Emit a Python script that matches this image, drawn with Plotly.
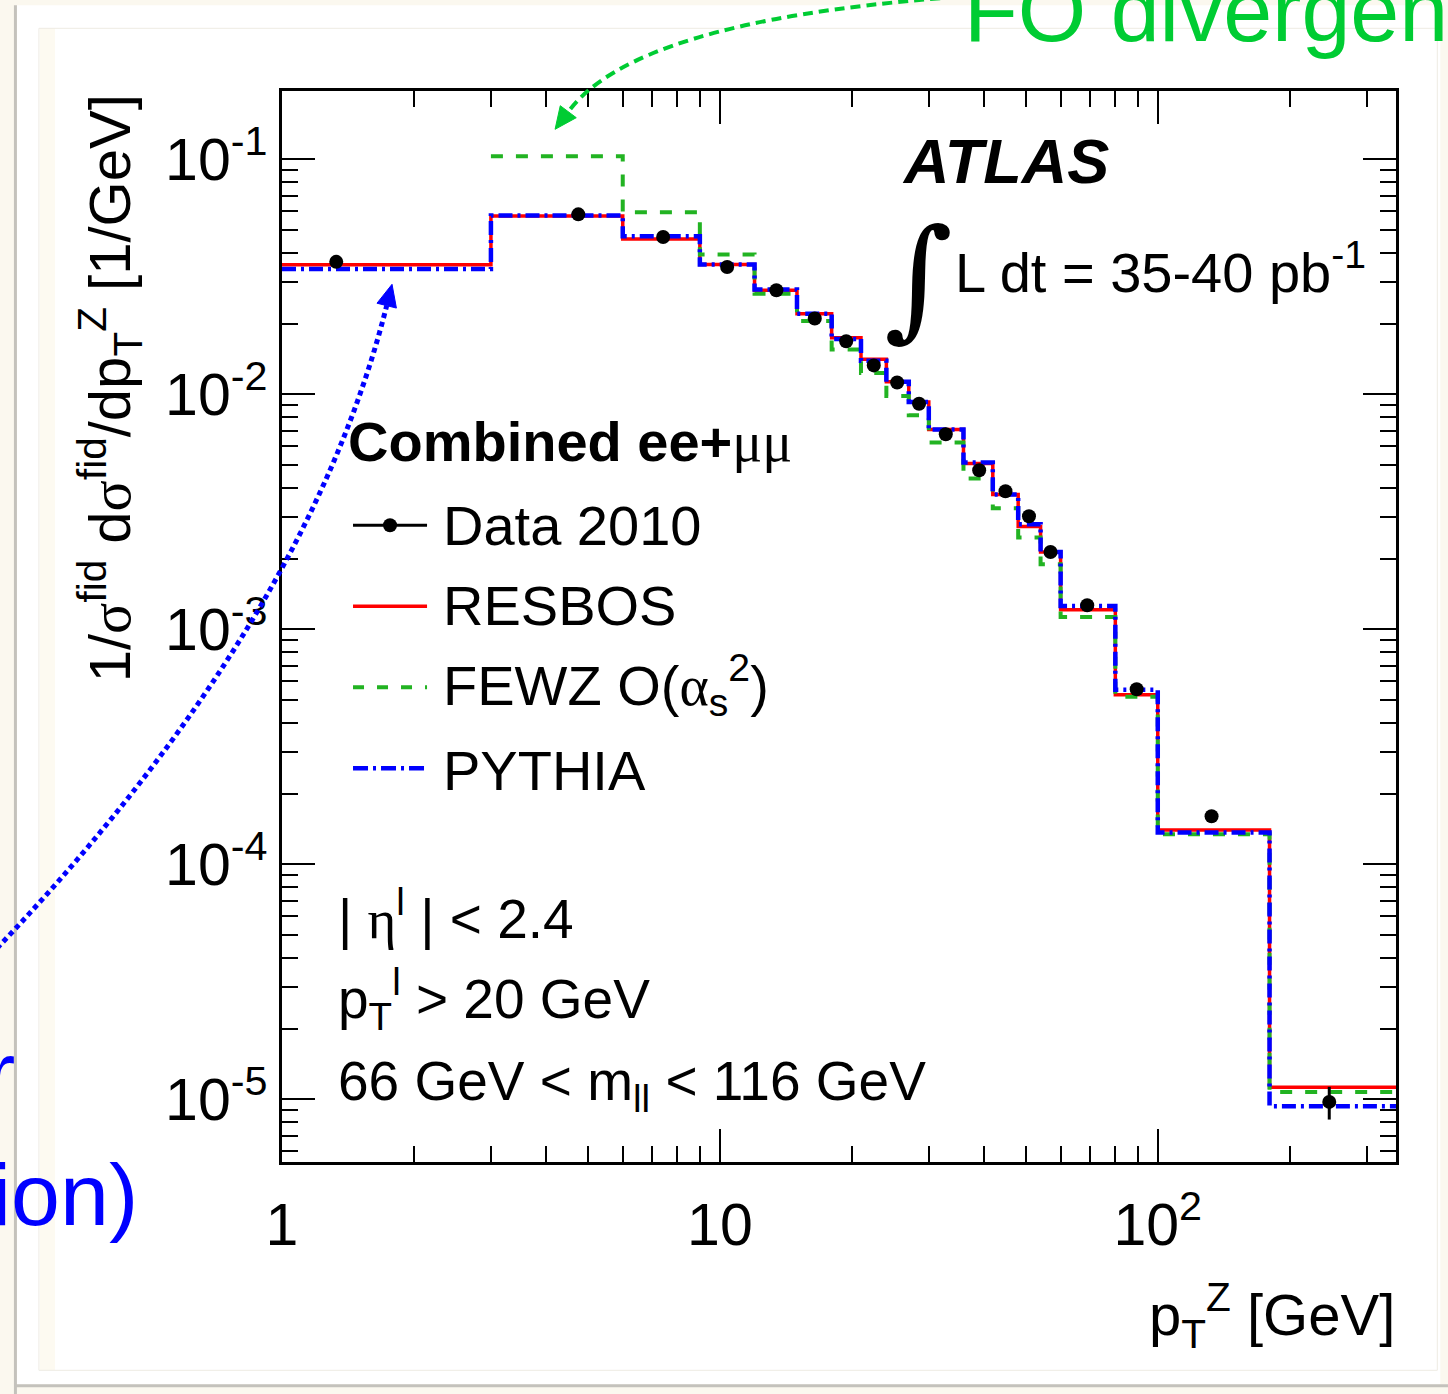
import numpy as np
import plotly.graph_objects as go

# ---------------- data ----------------
bin_edges = [1, 3, 6, 9, 12, 15, 18, 21, 24, 27, 30, 36, 42, 48, 54, 60, 80, 100, 180, 350]

resbos = [0.0356, 0.0574, 0.0458, 0.0357, 0.0277, 0.0220, 0.0174, 0.0141, 0.0113, 0.00927,
          0.00708, 0.00507, 0.00375, 0.00274, 0.00213, 0.00121, 0.000527, 0.000140, 1.125e-5]

pythia = [0.0341, 0.0576, 0.0470, 0.0357, 0.0279, 0.0220, 0.0172, 0.0139, 0.0113, 0.00927,
          0.00708, 0.00513, 0.00375, 0.00280, 0.00213, 0.001256, 0.000553, 0.0001365, 9.35e-6]

fewz_edges = [3, 6, 9, 12, 15, 18, 21, 24, 27, 30, 36, 42, 48, 54, 60, 80, 100, 180, 350]
fewz = [0.103, 0.0595, 0.0393, 0.0268, 0.0205, 0.0155, 0.01233, 0.00984, 0.00815,
        0.00623, 0.00438, 0.00327, 0.002455, 0.00189, 0.001127, 0.000516, 0.0001343, 1.074e-5]

data_pt = [1.33, 4.75, 7.42, 10.39, 13.46, 16.47, 19.43, 22.46, 25.4, 28.5, 32.8, 39.1,
           44.9, 50.8, 56.9, 69.0, 89.5, 132.7, 246.4]
data_val = [0.0366, 0.0583, 0.0467, 0.0348, 0.0277, 0.0210, 0.0168, 0.01327, 0.01122, 0.00912,
            0.00676, 0.00475, 0.003865, 0.003027, 0.002133, 0.001265, 0.000556, 0.00016, 9.75e-6]
data_err = [0.0005, 0.0008, 0.0006, 0.0005, 0.0004, 0.0003, 0.00025, 0.0002, 0.00017, 0.00014,
            0.0001, 0.00008, 0.00007, 0.00006, 0.00005, 0.00003, 0.000015, 0.000008, 1.55e-6]

x_tick_vals = [1, 10, 100]
x_tick_text = ["1", "10", "10<sup>2</sup>"]
x_minor = [2, 3, 4, 5, 6, 7, 8, 9, 20, 30, 40, 50, 60, 70, 80, 90, 200, 300]
y_tick_vals = [1e-5, 1e-4, 1e-3, 1e-2, 1e-1]
y_tick_text = ["10<sup>-5</sup>", "10<sup>-4</sup>", "10<sup>-3</sup>", "10<sup>-2</sup>", "10<sup>-1</sup>"]
y_minor = [k * 10.0 ** e for e in range(-6, 0) for k in range(2, 10) if 5.5e-6 < k * 10.0 ** e < 0.19]

# ---------------- styling ----------------
W, H = 1448, 1394
L, R, T, B = 282, 1395.7, 90.7, 1161.7
SANS = "Liberation Sans, Arial, Helvetica, sans-serif"
SERIF = "Liberation Serif, Times New Roman, serif"
RED, GREEN, BLUE = "#ff0000", "#22b322", "#0000ff"
ANN_GREEN, ANN_BLUE = "#00cc33", "#0000ff"


def px(x):
    return (x - L) / (R - L)


def py(y):
    return (B - y) / (B - T)


def steps(edges, vals):
    return list(edges), list(vals) + [vals[-1]]


fig = go.Figure()

x, y = steps(bin_edges, resbos)
fig.add_trace(go.Scatter(x=x, y=y, mode="lines", line=dict(color=RED, width=3.5, shape="hv"),
                         name="RESBOS", showlegend=False))
x, y = steps(fewz_edges, fewz)
fig.add_trace(go.Scatter(x=x, y=y, mode="lines",
                         line=dict(color=GREEN, width=4, shape="hv", dash="12px,13px"),
                         name="FEWZ", showlegend=False))
x, y = steps(bin_edges, pythia)
fig.add_trace(go.Scatter(x=x, y=y, mode="lines",
                         line=dict(color=BLUE, width=4.5, shape="hv", dash="14px,5px,3px,5px"),
                         name="PYTHIA", showlegend=False))
fig.add_trace(go.Scatter(x=data_pt, y=data_val, mode="markers",
                         marker=dict(size=14, color="black"),
                         error_y=dict(type="data", array=data_err, color="black", thickness=3, width=0),
                         name="Data 2010", showlegend=False))

shapes = []
# slide-like frame background
shapes.append(dict(type="rect", xref="paper", yref="paper", layer="below",
                   x0=px(17), x1=px(1440), y0=py(5), y1=py(1384),
                   fillcolor="white", line=dict(width=0)))
shapes.append(dict(type="rect", xref="paper", yref="paper", layer="below",
                   x0=px(40), x1=px(55), y0=py(28), y1=py(1370),
                   fillcolor="#fdfaf1", line=dict(width=0)))
shapes.append(dict(type="rect", xref="paper", yref="paper", layer="below",
                   x0=px(39), x1=px(1437), y0=py(28), y1=py(1370),
                   line=dict(color="#eeebe3", width=1)))
shapes.append(dict(type="line", xref="paper", yref="paper", layer="below",
                   x0=px(15.5), x1=px(15.5), y0=py(5), y1=py(1394),
                   line=dict(color="#c4c2bc", width=3)))
shapes.append(dict(type="line", xref="paper", yref="paper", layer="below",
                   x0=px(15), x1=px(1448), y0=py(1385.5), y1=py(1385.5),
                   line=dict(color="#c4c2bc", width=3)))


def arrow_head(tip, direction, length, half_w, color):
    d = np.array(direction, float)
    d /= np.linalg.norm(d)
    p = np.array([-d[1], d[0]])
    t = np.array(tip, float)
    base = t - length * d
    c1 = base + half_w * p
    c2 = base - half_w * p
    path = "M {:.5f},{:.5f} L {:.5f},{:.5f} L {:.5f},{:.5f} Z".format(
        px(t[0]), py(t[1]), px(c1[0]), py(c1[1]), px(c2[0]), py(c2[1]))
    return dict(type="path", xref="paper", yref="paper", path=path,
                fillcolor=color, line=dict(color=color, width=1)), base


def curve(p0, c, p1, color, width, dash):
    path = "M {:.5f},{:.5f} Q {:.5f},{:.5f} {:.5f},{:.5f}".format(
        px(p0[0]), py(p0[1]), px(c[0]), py(c[1]), px(p1[0]), py(p1[1]))
    return dict(type="path", xref="paper", yref="paper", path=path,
                line=dict(color=color, width=width, dash=dash))


# blue dotted arrow
head, base = arrow_head((392, 284), (0.25, -1), 22, 10, ANN_BLUE)
shapes.append(curve((-3, 948), (307, 622), tuple(base), ANN_BLUE, 5, "5px,4px"))
shapes.append(head)
# green dashed arrow
head, base = arrow_head((555, 129), (-0.6, 0.8), 22, 10, ANN_GREEN)
shapes.append(curve((940, -2), (634, 22), tuple(base), ANN_GREEN, 4, "10px,6px"))
shapes.append(head)

# manual legend
leg_y = [525, 606, 687, 768]
shapes.append(dict(type="line", xref="paper", yref="paper", x0=px(353), x1=px(427),
                   y0=py(leg_y[0]), y1=py(leg_y[0]), line=dict(color="black", width=3)))
shapes.append(dict(type="circle", xref="paper", yref="paper", x0=px(383), x1=px(397),
                   y0=py(leg_y[0] + 7), y1=py(leg_y[0] - 7), fillcolor="black", line=dict(width=0)))
shapes.append(dict(type="line", xref="paper", yref="paper", x0=px(353), x1=px(427),
                   y0=py(leg_y[1]), y1=py(leg_y[1]), line=dict(color=RED, width=3.5)))
shapes.append(dict(type="line", xref="paper", yref="paper", x0=px(353), x1=px(427),
                   y0=py(leg_y[2]), y1=py(leg_y[2]), line=dict(color=GREEN, width=4, dash="11px,13px")))
shapes.append(dict(type="line", xref="paper", yref="paper", x0=px(353), x1=px(427),
                   y0=py(leg_y[3]), y1=py(leg_y[3]), line=dict(color=BLUE, width=4.5, dash="15px,5px,3px,5px")))

annotations = []


def text(txt, x, base_y, size, anchor="left", family=SANS, color="black", shift=0.35):
    annotations.append(dict(text=txt, xref="paper", yref="paper", x=px(x), y=py(base_y - shift * size),
                            xanchor=anchor, yanchor="middle", showarrow=False,
                            font=dict(size=size, family=family, color=color)))


text("<b><i>ATLAS</i></b>", 900, 183, 63)
text("∫", 882, 323, 132, family="DejaVu Serif")
text("L dt = 35-40 pb<sup>-1</sup>", 953, 293, 56, shift=0.45)
text("<b>Combined ee+</b><span style='font-family:Liberation Serif'>μμ</span>", 346, 461, 56)
text("Data 2010", 441, 545, 56)
text("RESBOS", 441, 625, 56)
text("FEWZ O(<span style='font-family:Liberation Serif'>α</span><sub>s</sub><sup>2</sup>)", 441, 704, 56, shift=0.35)
text("PYTHIA", 441, 790, 56)
text("| <span style='font-family:Liberation Serif'>η</span><sup>l</sup> | < 2.4", 336, 938, 55, shift=0.42)
text("p<sub>T</sub><sup>l</sup> > 20 GeV", 336, 1018, 55, shift=0.35)
text("66 GeV < m<sub>ll</sub> < 116 GeV", 336, 1098, 55, shift=0.25)
text("p<sub>T</sub><sup>Z</sup> [GeV]", 1397, 1333, 58, anchor="right", shift=0.3)
text("FO divergence", 962, 41, 88, color=ANN_GREEN)
text("Parton shower", 17, 1103, 88, anchor="right", color=ANN_BLUE)
text("(resummation)", 140, 1225, 88, anchor="right", color=ANN_BLUE)

annotations.append(dict(
    text="1/<span style='font-family:Liberation Serif'>σ</span><sup>fid</sup> d<span style='font-family:Liberation Serif'>σ</span><sup>fid</sup>/dp<sub>T</sub><sup>Z</sup> [1/GeV]",
    xref="paper", yref="paper", x=px(110), y=py(388), xanchor="center", yanchor="middle",
    textangle=-90, showarrow=False, font=dict(size=58, family=SANS, color="black")))

axis_common = dict(type="log", ticks="inside", ticklen=33, tickwidth=2, tickcolor="black",
                   showline=True, linewidth=2.5, linecolor="black", mirror="ticks",
                   showgrid=False, zeroline=False,
                   tickfont=dict(size=59, family=SANS, color="black"))

fig.update_layout(
    width=W, height=H,
    margin=dict(l=L, r=W - R, t=T, b=H - B, pad=0),
    paper_bgcolor="#fbf8ef", plot_bgcolor="white",
    showlegend=False,
    xaxis=dict(axis_common, range=[0, np.log10(350)], tickmode="array",
               tickvals=x_tick_vals, ticktext=x_tick_text, ticklabelstandoff=9,
               minor=dict(tickmode="array", tickvals=x_minor, ticks="inside", ticklen=16,
                          tickwidth=2, tickcolor="black", showgrid=False)),
    yaxis=dict(axis_common, range=[np.log10(5.41e-6), np.log10(0.1952)], tickmode="array",
               tickvals=y_tick_vals, ticktext=y_tick_text, ticklabelstandoff=0,
               minor=dict(tickmode="array", tickvals=y_minor, ticks="inside", ticklen=16,
                          tickwidth=2, tickcolor="black", showgrid=False)),
    shapes=shapes,
    annotations=annotations,
)

fig.write_html("out.html")
